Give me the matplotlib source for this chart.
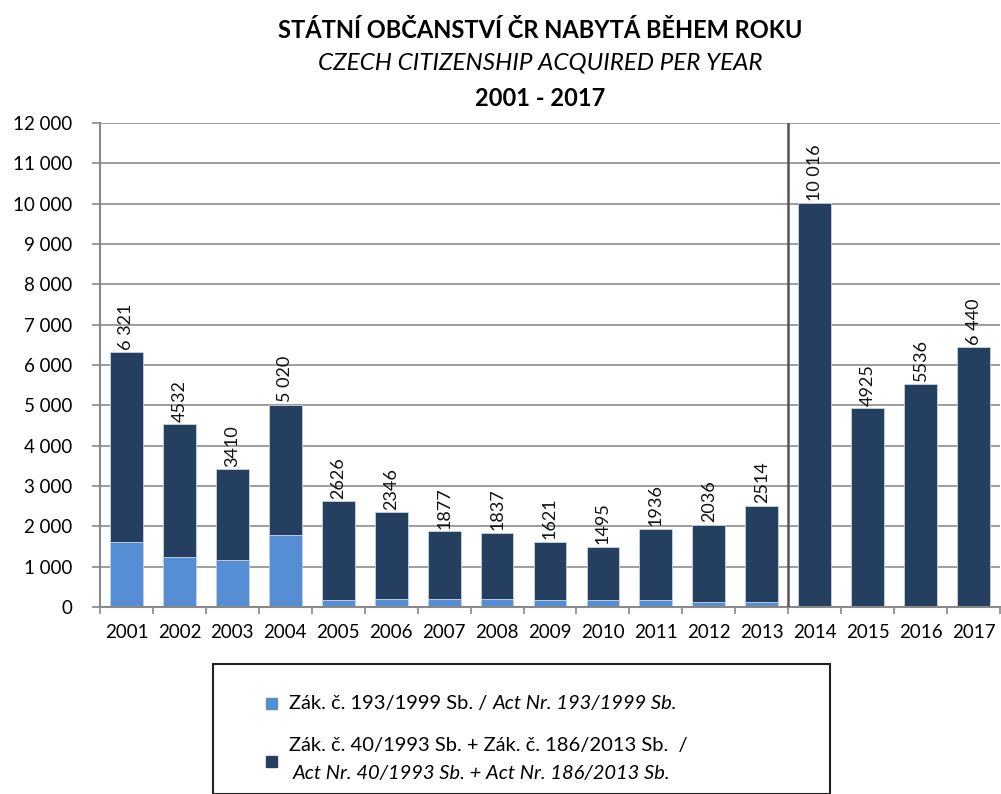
import matplotlib
matplotlib.use("Agg")
import matplotlib.pyplot as plt
import numpy as np
from matplotlib.patches import Rectangle

years = ["2001", "2002", "2003", "2004", "2005", "2006", "2007", "2008", "2009",
         "2010", "2011", "2012", "2013", "2014", "2015", "2016", "2017"]
totals = [6321, 4532, 3410, 5020, 2626, 2346, 1877, 1837, 1621, 1495, 1936,
          2036, 2514, 10016, 4925, 5536, 6440]
total_labels = ["6 321", "4532", "3410", "5 020", "2626", "2346", "1877", "1837",
                "1621", "1495", "1936", "2036", "2514", "10 016", "4925", "5536",
                "6 440"]
act_1999 = [1600, 1250, 1160, 1790, 165, 210, 210, 210, 165, 165, 165, 120, 120,
            0, 0, 0, 0]
act_1993_2013 = [t - a for t, a in zip(totals, act_1999)]
yticks = list(range(0, 12001, 1000))

LIGHT = "#558ed5"
DARK = "#243f60"
plt.rcParams["font.family"] = ["Lato", "DejaVu Sans"]

fig = plt.figure(figsize=(10.01, 7.94), dpi=100)
ax = fig.add_axes([100 / 1001, 1 - 607 / 794, 900 / 1001, 484 / 794])
x = np.arange(len(years))
ax.bar(x, act_1999, width=0.62, color=LIGHT, edgecolor="#c8d3e0", lw=0.5, zorder=2)
ax.bar(x, act_1993_2013, width=0.62, bottom=act_1999, color=DARK,
       edgecolor="#c8d3e0", lw=0.6, zorder=2)
for xi, t, lab in zip(x, totals, total_labels):
    ax.text(xi, t + 60, lab, rotation=90, ha="center", va="bottom",
            fontsize=13, color="#111111")

ax.set_xlim(-0.5, len(years) - 0.5)
ax.set_ylim(0, 12000)
ax.set_yticks(yticks)
ax.set_yticklabels([f"{v:,}".replace(",", " ") for v in yticks], fontsize=13.5)
ax.set_xticks(x)
ax.set_xticklabels(years, fontsize=13.5)
ax.set_xticks(np.arange(-0.5, len(years), 1), minor=True)
ax.tick_params(axis="x", which="major", length=0, pad=12)
ax.tick_params(axis="x", which="minor", length=5, color="#888888", width=1.2)
ax.tick_params(axis="y", length=6, color="#888888", width=1.2, pad=14)
ax.grid(axis="y", color="#8c8c8c", lw=1.2, zorder=0)
for s in ["top", "right"]:
    ax.spines[s].set_visible(False)
ax.spines["left"].set_color("#888888")
ax.spines["left"].set_linewidth(1.5)
ax.spines["bottom"].set_color("#888888")
ax.spines["bottom"].set_linewidth(1.5)
ax.axvline(12.5, color="#555555", lw=1.8, zorder=3)

fig.text(540 / 1001, 1 - 30 / 794, "STÁTNÍ OBČANSTVÍ ČR NABYTÁ BĚHEM ROKU",
         ha="center", va="center", fontsize=17, fontweight="bold")
fig.text(540 / 1001, 1 - 63 / 794, "CZECH CITIZENSHIP ACQUIRED PER YEAR",
         ha="center", va="center", fontsize=17.5, style="italic")
fig.text(540 / 1001, 1 - 98 / 794, "2001 - 2017",
         ha="center", va="center", fontsize=17, fontweight="bold")

# legend box
fig.patches.append(Rectangle((213 / 1001, 0), 617 / 1001, 130 / 794,
                             transform=fig.transFigure, fill=False,
                             edgecolor="#222222", lw=1.5))
fig.patches.append(Rectangle((266 / 1001, 1 - 709 / 794), 11 / 1001, 11 / 794,
                             transform=fig.transFigure, color=LIGHT))
fig.patches.append(Rectangle((266 / 1001, 1 - 767 / 794), 11 / 1001, 11 / 794,
                             transform=fig.transFigure, color=DARK))
fs = 14.5
t1 = fig.text(289 / 1001, 1 - 703 / 794, "Zák. č. 193/1999 Sb. / ", va="center",
              fontsize=fs)
renderer = fig.canvas.get_renderer()
x_end = t1.get_window_extent(renderer).x1
fig.text(x_end / 1001, 1 - 703 / 794, "Act Nr. 193/1999 Sb.", va="center",
         fontsize=fs, style="italic")
fig.text(289 / 1001, 1 - 746 / 794,
         "Zák. č. 40/1993 Sb. + Zák. č. 186/2013 Sb.  /", va="center",
         fontsize=fs)
fig.text(293 / 1001, 1 - 774 / 794,
         "Act Nr. 40/1993 Sb. + Act Nr. 186/2013 Sb.", va="center",
         fontsize=fs, style="italic")

fig.savefig("out.png", dpi=100)
